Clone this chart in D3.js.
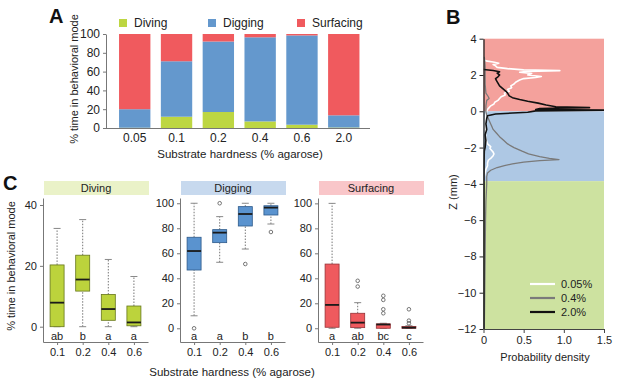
<!DOCTYPE html>
<html>
<head>
<meta charset="utf-8">
<script src="https://cdn.jsdelivr.net/npm/d3@7"></script>
<style>
body{margin:0;background:#fff}
svg{font-family:"Liberation Sans",Arial,sans-serif}
</style>
</head>
<body>
<svg id="fig" width="617" height="385"></svg>
<script>
// ---- panel A: stacked share of time per mode
const hardnessA = ['0.05', '0.1', '0.2', '0.4', '0.6', '2.0'];
const modes = ['Diving', 'Digging', 'Surfacing'];
const divingA = [0.3, 12, 17, 7, 3.5, 0.5];
const diggingA = [19.7, 59, 75, 89.5, 95, 13];
const surfacingA = [80, 29, 8, 3.5, 1.5, 86.5];
const ticksA = [0, 20, 40, 60, 80, 100];

// ---- panel B: depth profiles
const zoneEdges = [4, 0, -3.85, -12];
const zWhite = [2.85, 2.78, 2.72, 2.65, 2.58, 2.5, 2.42, 2.35, 2.28, 2.24, 2.2, 2.15, 2.08, 2.0, 1.92, 1.86, 1.8, 1.72, 1.6, 1.5, 1.4, 1.3, 1.2, 1.1, 1.0, 0.9, 0.8, 0.7, 0.6, 0.5, 0.4, 0.3, 0.2, 0.1, 0.0, -0.2, -0.5, -1.0, -1.5, -1.8, -1.95, -2.05, -2.15, -2.25, -2.35, -2.45, -2.55, -2.7, -2.85, -3.0, -3.2, -3.4, -3.6, -4.0];
const dWhite = [0.0, 0.03, 0.12, 0.19, 0.12, 0.15, 0.17, 0.3, 0.5, 0.95, 0.55, 0.45, 0.6, 0.55, 0.72, 0.65, 0.5, 0.45, 0.4, 0.38, 0.34, 0.35, 0.3, 0.32, 0.26, 0.27, 0.22, 0.2, 0.18, 0.14, 0.13, 0.09, 0.07, 0.05, 0.04, 0.03, 0.02, 0.02, 0.03, 0.05, 0.09, 0.08, 0.1, 0.12, 0.13, 0.12, 0.1, 0.06, 0.05, 0.05, 0.03, 0.02, 0.01, 0.0];
const zGray = [3.0, 2.5, 2.0, 1.5, 1.0, 0.8, 0.7, 0.6, 0.3, 0.0, -0.2, -0.4, -0.6, -0.8, -1.0, -1.2, -1.4, -1.6, -1.8, -2.0, -2.2, -2.35, -2.5, -2.6, -2.66, -2.72, -2.8, -2.9, -3.0, -3.1, -3.25, -3.4, -3.6, -4.0, -5, -6, -8, -10, -12];
const dGray = [0.01, 0.02, 0.02, 0.02, 0.03, 0.06, 0.07, 0.04, 0.03, 0.03, 0.04, 0.06, 0.08, 0.1, 0.12, 0.16, 0.2, 0.25, 0.3, 0.38, 0.48, 0.56, 0.7, 0.82, 0.94, 0.7, 0.5, 0.36, 0.26, 0.17, 0.09, 0.05, 0.04, 0.04, 0.03, 0.025, 0.02, 0.015, 0.01];
const zBlack = [2.3, 2.25, 2.18, 2.1, 2.0, 1.9, 1.8, 1.7, 1.55, 1.4, 1.25, 1.1, 1.0, 0.85, 0.75, 0.65, 0.55, 0.45, 0.35, 0.25, 0.2, 0.15, 0.1, 0.06, 0.02, -0.05, -0.15, -0.25, -0.4, -0.7, -1.0, -1.3, -1.6, -2.0, -2.2, -3, -12];
const dBlack = [0.0, 0.12, 0.2, 0.17, 0.2, 0.18, 0.15, 0.16, 0.18, 0.2, 0.24, 0.28, 0.3, 0.32, 0.36, 0.45, 0.55, 0.68, 0.78, 0.9, 1.32, 0.7, 0.65, 1.55, 0.65, 0.55, 0.15, 0.05, 0.04, 0.03, 0.04, 0.02, 0.03, 0.02, 0.01, 0.005, 0.0];
const profileNames = ['0.05%', '0.4%', '2.0%'];

// ---- panel C: box plots, [low whisker, q1, median, q3, high whisker]
const hardnessC = ['0.1', '0.2', '0.4', '0.6'];
const divingStats = [[0, 0, 7.9, 20.3, 32.3], [0, 11.7, 15.5, 23.5, 35.2], [0, 2.1, 5.8, 10.6, 22.1], [0, 0.3, 1.4, 6.8, 16.5]];
const divingOut = [[], [], [], []];
const divingLetters = ['ab', 'b', 'a', 'a'];
const diggingStats = [[10, 46.6, 61.8, 72.8, 100], [52.8, 68.5, 76.5, 78.9, 89.3], [63.4, 81.8, 91.4, 97.3, 100], [83.4, 90.6, 96.5, 98, 100]];
const diggingOut = [[0], [100], [51.4], [77]];
const diggingLetters = ['a', 'a', 'b', 'b'];
const surfacingStats = [[0, 0.8, 18.7, 51.4, 100], [0, 0.5, 4.5, 12, 20.5], [0, 0, 3, 3.5, 4], [0, 0, 0.5, 1.5, 2]];
const surfacingOut = [[], [33.4, 38], [12, 15.2, 22.7, 26], [4, 6.1, 15.2]];
const surfacingLetters = ['a', 'ab', 'bc', 'c'];

const svg = d3.select('#fig');
const textCol = '#222';
const axisCol = '#777';

function styleAxis(g, col) {
    g.selectAll('path, line').attr('stroke', col || axisCol);
    g.selectAll('text').attr('fill', textCol).attr('font-size', 11)
        .attr('font-family', '"Liberation Sans",Arial,sans-serif');
}

function panelLetter(t, x, y) {
    svg.append('text').attr('x', x).attr('y', y).text(t)
        .attr('font-size', 20).attr('font-weight', 'bold').attr('fill', '#111');
}

// ================= A =================
{
    const x = d3.scaleBand().domain(hardnessA).range([106.5, 372]).paddingInner(0.25).paddingOuter(0.3);
    const y = d3.scaleLinear().domain([0, 100]).range([128, 34]);
    const color = d3.scaleOrdinal().domain(modes).range(['#bdd642', '#6498cd', '#f05a5e']);

    const rows = hardnessA.map((h, i) => ({ h: h, Diving: divingA[i], Digging: diggingA[i], Surfacing: surfacingA[i] }));
    const stacked = d3.stack().keys(modes)(rows);

    svg.append('g').selectAll('g').data(stacked).join('g')
        .attr('fill', d => color(d.key))
        .selectAll('rect').data(d => d).join('rect')
        .attr('x', d => x(d.data.h))
        .attr('y', d => y(d[1]))
        .attr('width', x.bandwidth())
        .attr('height', d => y(d[0]) - y(d[1]));

    const yg = svg.append('g').attr('transform', 'translate(106,0)')
        .call(d3.axisLeft(y).tickValues(ticksA).tickSize(3).tickSizeOuter(0));
    styleAxis(yg);
    yg.selectAll('text').attr('font-size', 12);
    const xg = svg.append('g').attr('transform', 'translate(0,128)')
        .call(d3.axisBottom(x).tickSize(0).tickPadding(5));
    xg.select('.domain').attr('d', 'M106,0.5H370');
    styleAxis(xg);
    xg.selectAll('text').attr('font-size', 12);

    svg.append('text').attr('x', 240).attr('y', 158).attr('text-anchor', 'middle')
        .attr('font-size', 11.5).attr('fill', textCol).text('Substrate hardness (% agarose)');
    svg.append('text').attr('transform', 'translate(78,79) rotate(-90)').attr('text-anchor', 'middle')
        .attr('font-size', 11).attr('fill', textCol).text('% time in behavioral mode');

    const legX = [119, 208, 297];
    const leg = svg.append('g').selectAll('g').data(modes).join('g')
        .attr('transform', (d, i) => `translate(${legX[i]},19)`);
    leg.append('rect').attr('width', 8).attr('height', 8).attr('fill', d => color(d));
    leg.append('text').attr('x', 15).attr('y', 8).attr('font-size', 12).attr('fill', textCol).text(d => d);

    panelLetter('A', 49, 23);
}

// ================= B =================
{
    const x = d3.scaleLinear().domain([0, 1.5]).range([483.5, 604]);
    const y = d3.scaleLinear().domain([-12, 4]).range([329, 38.7]);
    const zoneCols = ['#f4a19c', '#aec8e4', '#cde2a0'];

    svg.append('g').selectAll('rect').data(zoneCols).join('rect')
        .attr('x', x(0)).attr('width', x(1.5) - x(0))
        .attr('y', (d, i) => y(zoneEdges[i]))
        .attr('height', (d, i) => y(zoneEdges[i + 1]) - y(zoneEdges[i]))
        .attr('fill', d => d);

    svg.append('clipPath').attr('id', 'clipB').append('rect')
        .attr('x', x(0)).attr('y', y(4)).attr('width', x(1.5) - x(0)).attr('height', y(-12) - y(4));

    const line = d3.line().x(d => x(d[1])).y(d => y(d[0]));
    const profiles = [
        { z: zWhite, d: dWhite, col: '#ffffff', w: 1.6 },
        { z: zGray, d: dGray, col: '#7a7a7a', w: 1.3 },
        { z: zBlack, d: dBlack, col: '#111111', w: 1.6 }
    ];
    svg.append('g').attr('clip-path', 'url(#clipB)').selectAll('path').data(profiles).join('path')
        .attr('d', p => line(d3.zip(p.z, p.d)))
        .attr('fill', 'none').attr('stroke', p => p.col).attr('stroke-width', p => p.w)
        .attr('stroke-linejoin', 'round');

    const yg = svg.append('g').attr('transform', `translate(${x(0)},0)`)
        .call(d3.axisLeft(y).tickValues(d3.range(-12, 5, 2)).tickSize(4).tickSizeOuter(0));
    styleAxis(yg, '#222');
    yg.select('.domain').attr('stroke-width', 1.3);
    const xg = svg.append('g').attr('transform', `translate(0,${y(-12)})`)
        .call(d3.axisBottom(x).tickValues([0, 0.5, 1, 1.5]).tickSize(4).tickSizeOuter(0)
            .tickFormat(d => d === 0 ? '0' : d3.format('.1f')(d)));
    styleAxis(xg, '#444');

    svg.append('text').attr('x', 545).attr('y', 361).attr('text-anchor', 'middle')
        .attr('font-size', 11).attr('fill', textCol).text('Probability density');
    svg.append('text').attr('transform', 'translate(457,192) rotate(-90)').attr('text-anchor', 'middle')
        .attr('font-size', 11).attr('fill', textCol).text('Z (mm)');

    const leg = svg.append('g').selectAll('g').data(profiles).join('g')
        .attr('transform', (d, i) => `translate(530,${284 + i * 14})`);
    leg.append('line').attr('x1', 0).attr('x2', 25).attr('stroke', p => p.col).attr('stroke-width', 2.2);
    leg.append('text').attr('x', 31).attr('y', 4).attr('font-size', 11).attr('fill', textCol)
        .text((p, i) => profileNames[i]);

    panelLetter('B', 446, 24);
}

// ================= C =================
function drawBoxPanel(cfg) {
    const x = d3.scalePoint().domain(hardnessC).range([cfg.left, cfg.left + 105]).padding(0.55);
    const y = d3.scaleLinear().domain(cfg.domain).range([342, 198]);
    const g = svg.append('g');

    g.append('rect').attr('x', cfg.left + 1).attr('y', 181).attr('width', 105).attr('height', 14)
        .attr('fill', cfg.header);
    g.append('text').attr('x', cfg.left + 53).attr('y', 192).attr('text-anchor', 'middle')
        .attr('font-size', 11).attr('fill', textCol).text(cfg.title);

    const boxes = hardnessC.map((h, i) => ({ h: h, s: cfg.stats[i], out: cfg.out[i], lab: cfg.letters[i] }));
    const bw = 14;
    const bx = g.selectAll('g.box').data(boxes).join('g').attr('class', 'box');

    // whiskers
    bx.append('line').attr('x1', d => x(d.h)).attr('x2', d => x(d.h))
        .attr('y1', d => y(d.s[3])).attr('y2', d => y(d.s[4]))
        .attr('stroke', '#777').attr('stroke-dasharray', '1.5,1.5');
    bx.append('line').attr('x1', d => x(d.h)).attr('x2', d => x(d.h))
        .attr('y1', d => y(d.s[0])).attr('y2', d => y(d.s[1]))
        .attr('stroke', '#777').attr('stroke-dasharray', '1.5,1.5');
    [0, 4].forEach(k => {
        bx.append('line').attr('x1', d => x(d.h) - 3.5).attr('x2', d => x(d.h) + 3.5)
            .attr('y1', d => y(d.s[k])).attr('y2', d => y(d.s[k]))
            .attr('stroke', '#888');
    });
    bx.append('rect').attr('x', d => x(d.h) - bw / 2).attr('width', bw)
        .attr('y', d => y(d.s[3])).attr('height', d => Math.max(1, y(d.s[1]) - y(d.s[3])))
        .attr('fill', cfg.fill).attr('stroke', cfg.stroke).attr('stroke-width', 0.8);
    bx.append('line').attr('x1', d => x(d.h) - bw / 2).attr('x2', d => x(d.h) + bw / 2)
        .attr('y1', d => y(d.s[2])).attr('y2', d => y(d.s[2]))
        .attr('stroke', '#1a1a1a').attr('stroke-width', 1.8);
    bx.selectAll('circle').data(d => d.out.map(v => ({ h: d.h, v: v }))).join('circle')
        .attr('cx', d => x(d.h)).attr('cy', d => y(d.v)).attr('r', 1.8)
        .attr('fill', 'none').attr('stroke', '#666').attr('stroke-width', 0.9);
    bx.append('text').attr('x', d => x(d.h)).attr('y', 340).attr('text-anchor', 'middle')
        .attr('font-size', 11).attr('fill', textCol).text(d => d.lab);

    const yg = g.append('g').attr('transform', `translate(${cfg.left},0)`)
        .call(d3.axisLeft(y).tickValues(cfg.ticks).tickSize(3).tickSizeOuter(0));
    styleAxis(yg);
    const xg = g.append('g').attr('transform', 'translate(0,342)')
        .call(d3.axisBottom(x).tickSize(3).tickSizeOuter(0));
    styleAxis(xg);
}

drawBoxPanel({ left: 43, domain: [-5.03, 42.3], ticks: [0, 20, 40], title: 'Diving', header: '#eaf2c8',
    fill: '#bcd33c', stroke: '#66761c', stats: divingStats, out: divingOut, letters: divingLetters });
drawBoxPanel({ left: 180, domain: [-10.96, 104.2], ticks: [0, 20, 40, 60, 80, 100], title: 'Digging', header: '#c7d9ee',
    fill: '#5a93cf', stroke: '#2d5a8a', stats: diggingStats, out: diggingOut, letters: diggingLetters });
drawBoxPanel({ left: 318, domain: [-11.0, 104.3], ticks: [0, 20, 40, 60, 80, 100], title: 'Surfacing', header: '#f9c6c9',
    fill: '#ef5a5e', stroke: '#963236', stats: surfacingStats, out: surfacingOut, letters: surfacingLetters });

svg.append('text').attr('x', 232).attr('y', 376).attr('text-anchor', 'middle')
    .attr('font-size', 11.5).attr('fill', textCol).text('Substrate hardness (% agarose)');
svg.append('text').attr('transform', 'translate(15,266) rotate(-90)').attr('text-anchor', 'middle')
    .attr('font-size', 11).attr('fill', textCol).text('% time in behavioral mode');
panelLetter('C', 3, 190);
</script>
</body>
</html>
